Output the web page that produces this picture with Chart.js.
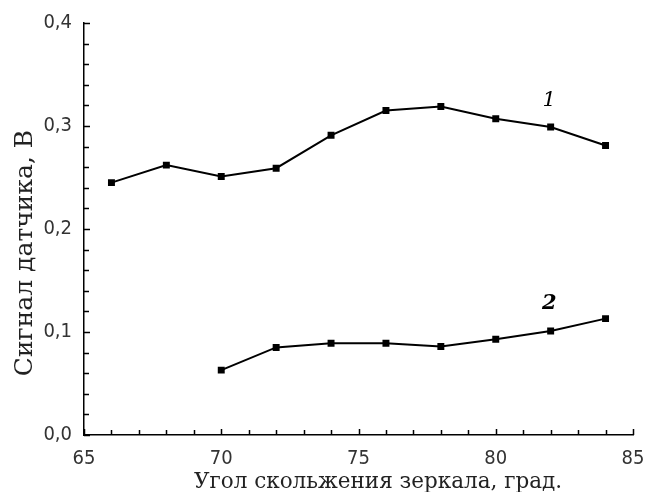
<!DOCTYPE html>
<html>
<head>
<meta charset="utf-8">
<script src="https://cdn.jsdelivr.net/npm/chart.js@4"></script>
<style>
  html, body { margin: 0; padding: 0; background: #fff; }
  #wrap { width: 650px; height: 492px; }
</style>
</head>
<body>
<div id="wrap"><canvas id="chart" width="650" height="492"></canvas></div>
<script>
// --- Data ---
const angles1 = [66, 68, 70, 72, 74, 76, 78, 80, 82, 84];
const signal1 = [0.245, 0.262, 0.251, 0.259, 0.291, 0.315, 0.319, 0.307, 0.299, 0.281];
const angles2 = [70, 72, 74, 76, 78, 80, 82, 84];
const signal2 = [0.063, 0.085, 0.089, 0.089, 0.086, 0.093, 0.101, 0.113];
const curveLabels = [
  { text: '1', x: 81.95, y: 0.325, bold: false },
  { text: '2', x: 81.95, y: 0.128, bold: true }
];
const xTitle = 'Угол скольжения зеркала, град.';
const yTitle = 'Сигнал датчика, В';

const tickFont = "'Liberation Sans Narrow', 'DejaVu Sans Condensed', sans-serif";
const titleFont = "'DejaVu Serif', serif";

function toPoints(xs, ys) {
  return xs.map((x, i) => ({ x: x, y: ys[i] }));
}

// inward ticks (major + minor), curve numbers and axis titles
const decorations = {
  id: 'decorations',
  afterDraw(chart) {
    const ctx = chart.ctx;
    const xs = chart.scales.x, ys = chart.scales.y;
    const left = xs.left, bottom = ys.bottom;
    ctx.save();
    ctx.strokeStyle = '#000';
    ctx.lineWidth = 1.5;
    ctx.beginPath();
    for (let v = 65; v <= 85; v += 1) {
      const px = Math.round(xs.getPixelForValue(v)) + 0.5;
      const len = (v % 5 === 0) ? 6 : 5;
      ctx.moveTo(px, bottom);
      ctx.lineTo(px, bottom - len);
    }
    for (let i = 0; i <= 20; i++) {
      const py = Math.round(ys.getPixelForValue(i * 0.02)) + 0.5;
      const len = (i % 5 === 0) ? 6 : 5;
      ctx.moveTo(left, py);
      ctx.lineTo(left + len, py);
    }
    ctx.stroke();

    // curve numbers
    ctx.fillStyle = '#000';
    ctx.textAlign = 'center';
    ctx.textBaseline = 'middle';
    curveLabels.forEach(l => {
      ctx.font = (l.bold ? 'italic bold ' : 'italic ') + '21px ' + titleFont;
      ctx.fillText(l.text, xs.getPixelForValue(l.x), ys.getPixelForValue(l.y));
    });

    // axis titles
    ctx.fillStyle = '#222';
    ctx.font = '21.5px ' + titleFont;
    ctx.fillText(xTitle, 378, 482);
    ctx.translate(25, 253);
    ctx.rotate(-Math.PI / 2);
    ctx.font = '25px ' + titleFont;
    ctx.fillText(yTitle, 0, 0);
    ctx.restore();
  }
};

const lineStyle = {
  borderColor: '#000',
  backgroundColor: '#000',
  borderWidth: 2,
  pointStyle: 'rect',
  pointRadius: 3.5,
  pointHoverRadius: 3.5,
  tension: 0,
  fill: false
};

new Chart(document.getElementById('chart'), {
  type: 'line',
  data: {
    datasets: [
      Object.assign({ label: '1', data: toPoints(angles1, signal1) }, lineStyle),
      Object.assign({ label: '2', data: toPoints(angles2, signal2) }, lineStyle)
    ]
  },
  options: {
    responsive: false,
    animation: false,
    layout: { padding: { top: 23, right: 17, left: 0, bottom: 0 } },
    plugins: {
      legend: { display: false },
      tooltip: { enabled: false }
    },
    scales: {
      x: {
        type: 'linear',
        min: 65, max: 85,
        grid: { display: false, drawTicks: false },
        border: { display: true, color: '#000', width: 1.5 },
        ticks: {
          stepSize: 5,
          padding: 12,
          color: '#333',
          font: { family: tickFont, size: 20 },
          callback: v => String(v)
        },
        afterFit: s => { s.height = 57; s.paddingLeft = 0; s.paddingRight = 0; }
      },
      y: {
        min: 0, max: 0.4,
        grid: { display: false, drawTicks: false },
        border: { display: true, color: '#000', width: 1.5 },
        ticks: {
          stepSize: 0.1,
          padding: 12,
          color: '#333',
          font: { family: tickFont, size: 20 },
          callback: v => v.toFixed(1).replace('.', ',')
        },
        afterFit: s => { s.width = 84; s.paddingTop = 0; s.paddingBottom = 0; }
      }
    }
  },
  plugins: [decorations]
});
</script>
</body>
</html>
